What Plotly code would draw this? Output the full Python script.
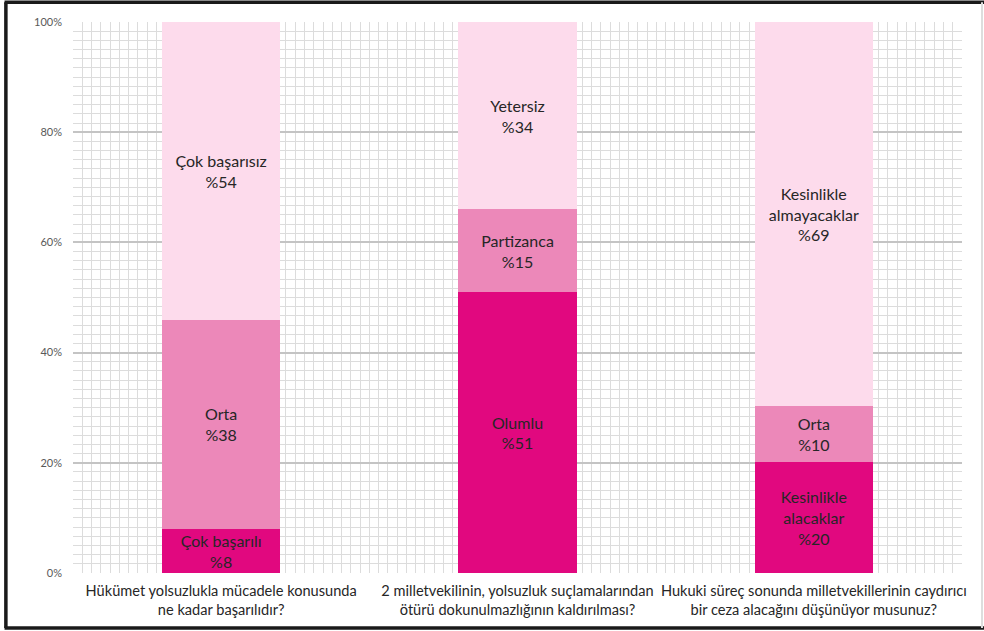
import plotly.graph_objects as go

# questions (x categories)
questions = [
    "Hükümet yolsuzlukla mücadele konusunda<br>ne kadar başarılıdır?",
    "2 milletvekilinin, yolsuzluk suçlamalarından<br>ötürü dokunulmazlığının kaldırılması?",
    "Hukuki süreç sonunda milletvekillerinin caydırıcı<br>bir ceza alacağını düşünüyor musunuz?",
]
positions = [0, 1, 2]

# bottom segment
bottom_values = [8, 51, 20]
bottom_labels = ["Çok başarılı<br>%8", "Olumlu<br>%51", "Kesinlikle<br>alacaklar<br>%20"]

# middle segment
middle_values = [38, 15, 10]
middle_labels = ["Orta<br>%38", "Partizanca<br>%15", "Orta<br>%10"]

# top segment
top_values = [54, 34, 69]
top_labels = ["Çok başarısız<br>%54", "Yetersiz<br>%34", "Kesinlikle<br>almayacaklar<br>%69"]

y_ticks = [0, 20, 40, 60, 80, 100]
y_tick_text = ["0%", "20%", "40%", "60%", "80%", "100%"]

colors = ["#E1087F", "#EC88B9", "#FDDBEC"]
font = "Lato, 'Open Sans', sans-serif"

fig = go.Figure()
for vals, labels, col in [
    (bottom_values, bottom_labels, colors[0]),
    (middle_values, middle_labels, colors[1]),
    (top_values, top_labels, colors[2]),
]:
    fig.add_trace(go.Bar(
        x=positions, y=vals, text=labels,
        marker=dict(color=col, line=dict(width=0)),
        width=0.4,
        textposition="inside", insidetextanchor="middle", textangle=0,
        constraintext="none",
        insidetextfont=dict(family=font, size=16, color="#262626"),
        hoverinfo="skip",
    ))

fig.update_layout(
    barmode="stack", barnorm="percent",
    width=984, height=631,
    margin=dict(l=73, r=22, t=22, b=58, autoexpand=False),
    paper_bgcolor="white", plot_bgcolor="white",
    showlegend=False,
    font=dict(family=font),
    xaxis=dict(
        range=[-0.5, 2.5], automargin=False,
        tickvals=positions, ticktext=questions,
        tickfont=dict(size=14.6, color="#262626"),
        showgrid=False, zeroline=False, ticks="", ticklabelstandoff=7,
        minor=dict(showgrid=True, gridcolor="#dcdcdc", gridwidth=1, dtick=1/32, tick0=-0.5),
    ),
    yaxis=dict(
        range=[0, 100], automargin=False,
        tickvals=y_ticks, ticktext=y_tick_text,
        tickfont=dict(size=11, color="#595959"),
        showgrid=True, gridcolor="#c4c4c4", gridwidth=1.5,
        zeroline=False, ticks="", ticklabelstandoff=10,
        minor=dict(showgrid=True, gridcolor="#dcdcdc", gridwidth=1, dtick=20/12, tick0=0),
    ),
)

# figure frame
frame = dict(xref="paper", yref="paper", layer="above")
fig.add_shape(type="line", x0=-0.0755, x1=-0.0755, y0=-0.1, y1=1.036, line=dict(color="#1a1a1a", width=3.5), **frame)
fig.add_shape(type="line", x0=-0.077, x1=1.03, y0=1.036, y1=1.036, line=dict(color="#1a1a1a", width=3.5), **frame)
fig.add_shape(type="line", x0=-0.077, x1=1.03, y0=-0.1, y1=-0.1, line=dict(color="#1a1a1a", width=3.5), **frame)
fig.add_shape(type="line", x0=1.0225, x1=1.0225, y0=-0.1, y1=1.036, line=dict(color="#dddddd", width=2), **frame)

fig.write_html("out.html", config={"displayModeBar": False},
               post_script="document.body.style.margin='0';")
